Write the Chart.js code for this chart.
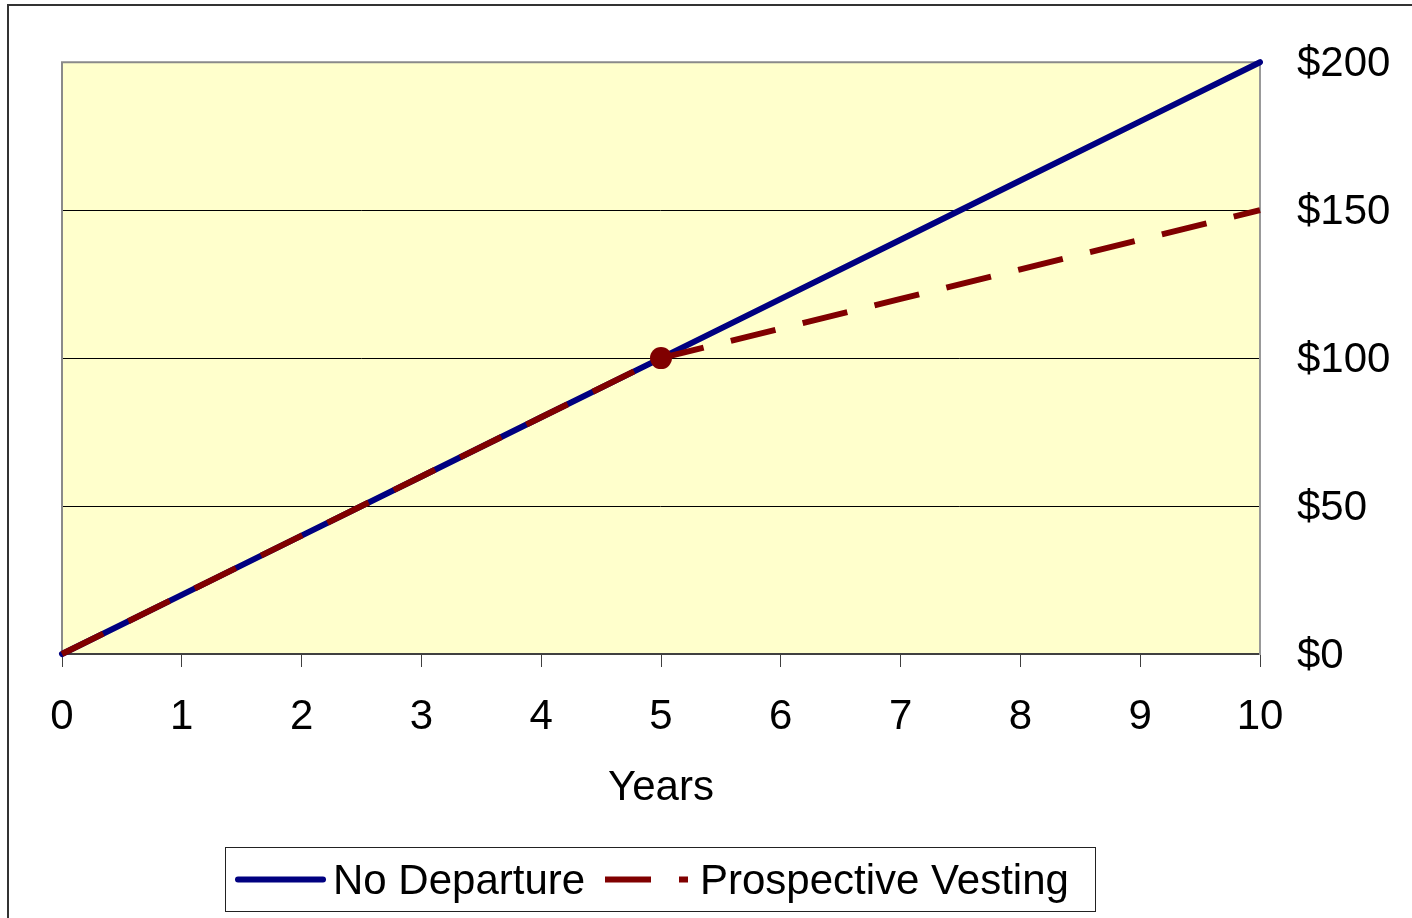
<!DOCTYPE html>
<html>
<head>
<meta charset="utf-8">
<title>Years</title>
<script src="https://cdn.jsdelivr.net/npm/chart.js@4/dist/chart.umd.min.js"></script>
<style>
  html, body { margin: 0; padding: 0; background: #ffffff; }
  #wrap { width: 1412px; height: 918px; position: relative; }
</style>
</head>
<body>
<div id="wrap"><canvas id="c" width="1412" height="918"></canvas></div>
<script>
// Years on the horizontal axis
const years = [0, 1, 2, 3, 4, 5, 6, 7, 8, 9, 10];
// Value with no departure
const noDeparture = [0, 20, 40, 60, 80, 100, 120, 140, 160, 180, 200];
// Value under prospective vesting (slows after year 5)
const prospectiveVesting = [0, 20, 40, 60, 80, 100, 110, 120, 130, 140, 150];
// Year marked with a dot on the vesting line
const markedYear = 5;
// Value axis ticks
const valueTicks = [0, 50, 100, 150, 200];
const seriesNames = ['No Departure', 'Prospective Vesting'];

const FONT = "'Liberation Sans', Arial, sans-serif";
const FONT_SIZE = 42;

const toPoints = (ys) => years.map((x, i) => ({ x: x, y: ys[i] }));

// Plot background, frame and outer border
const framePlugin = {
  id: 'frame',
  beforeDraw(chart) {
    const { ctx, chartArea: a } = chart;
    ctx.save();
    ctx.fillStyle = '#ffffff';
    ctx.fillRect(0, 0, chart.width, chart.height);
    ctx.fillStyle = '#FFFFCC';
    ctx.fillRect(a.left, a.top, a.right - a.left, a.bottom - a.top);
    ctx.restore();
  },
  beforeDatasetsDraw(chart) {
    const { ctx, chartArea: a } = chart;
    ctx.save();
    ctx.lineWidth = 2;
    ctx.strokeStyle = '#8a8a8a';
    ctx.beginPath();
    ctx.moveTo(a.left, a.bottom);
    ctx.lineTo(a.left, a.top);
    ctx.lineTo(a.right, a.top);
    ctx.stroke();
    ctx.restore();
  },
  afterDraw(chart) {
    const { ctx } = chart;
    ctx.save();
    ctx.lineWidth = 2;
    ctx.strokeStyle = '#333333';
    ctx.strokeRect(8, 5, chart.width + 20, chart.height + 20);
    ctx.restore();
  }
};

// Boxed legend below the axis title
const legendPlugin = {
  id: 'boxLegend',
  afterDraw(chart) {
    const { ctx } = chart;
    const box = { left: 225, top: 847, right: 1095, bottom: 911 };
    ctx.save();
    ctx.fillStyle = '#ffffff';
    ctx.fillRect(box.left, box.top, box.right - box.left, box.bottom - box.top);
    ctx.lineWidth = 1;
    ctx.strokeStyle = '#222222';
    ctx.strokeRect(box.left + 0.5, box.top + 0.5, box.right - box.left, box.bottom - box.top);

    const items = [
      { ds: chart.data.datasets[0], x0: 238, x1: 323, tx: 333 },
      { ds: chart.data.datasets[1], x0: 605, x1: 688, tx: 700 }
    ];
    const lineY = 879.5;
    ctx.font = FONT_SIZE + 'px ' + FONT;
    ctx.textBaseline = 'alphabetic';
    ctx.textAlign = 'left';
    items.forEach(it => {
      ctx.save();
      ctx.strokeStyle = it.ds.borderColor;
      ctx.lineWidth = it.ds.borderWidth;
      ctx.lineCap = it.ds.borderCapStyle || 'butt';
      ctx.setLineDash(it.ds.borderDash || []);
      ctx.beginPath();
      ctx.moveTo(it.x0, lineY);
      ctx.lineTo(it.x1, lineY);
      ctx.stroke();
      ctx.restore();
      ctx.fillStyle = '#000000';
      ctx.fillText(it.ds.label, it.tx, 894);
    });
    ctx.restore();
  }
};

new Chart(document.getElementById('c'), {
  type: 'line',
  data: {
    datasets: [
      {
        label: seriesNames[0],
        data: toPoints(noDeparture),
        borderColor: '#000080',
        borderWidth: 6,
        borderCapStyle: 'round',
        borderJoinStyle: 'round',
        pointRadius: 0,
        tension: 0,
        fill: false,
        order: 1,
        clip: 10
      },
      {
        label: seriesNames[1],
        data: toPoints(prospectiveVesting),
        borderColor: '#800000',
        backgroundColor: '#800000',
        borderWidth: 6,
        borderDash: [46, 28],
        borderCapStyle: 'butt',
        pointRadius: (c) => (c.raw && c.raw.x === markedYear ? 11 : 0),
        pointBackgroundColor: '#800000',
        pointBorderColor: '#800000',
        pointBorderWidth: 0,
        tension: 0,
        fill: false,
        order: 0,
        clip: 14
      }
    ]
  },
  options: {
    responsive: false,
    animation: false,
    events: [],
    layout: { padding: { left: 62, top: 62, right: 0, bottom: 104 } },
    plugins: {
      legend: { display: false },
      tooltip: { enabled: false },
      title: { display: false }
    },
    scales: {
      x: {
        type: 'linear',
        min: years[0],
        max: years[years.length - 1],
        afterFit(scale) { scale.height = 160; },
        ticks: {
          stepSize: 1,
          autoSkip: false,
          maxRotation: 0,
          padding: 25,
          color: '#000000',
          font: { family: FONT, size: FONT_SIZE }
        },
        grid: {
          drawOnChartArea: false,
          drawTicks: true,
          tickLength: 13,
          color: '#404040',
          lineWidth: 1
        },
        border: { display: true, color: '#404040', width: 2 },
        title: {
          display: true,
          text: 'Years',
          color: '#000000',
          font: { family: FONT, size: FONT_SIZE },
          padding: { top: 0, bottom: 0 }
        }
      },
      y: {
        type: 'linear',
        position: 'right',
        min: valueTicks[0],
        max: valueTicks[valueTicks.length - 1],
        afterFit(scale) { scale.width = 152; },
        afterBuildTicks(scale) { scale.ticks = valueTicks.map(v => ({ value: v })); },
        ticks: {
          padding: 37,
          labelOffset: 2,
          color: '#000000',
          font: { family: FONT, size: FONT_SIZE },
          callback: (v) => '$' + v
        },
        grid: {
          drawTicks: false,
          color: '#000000',
          lineWidth: 1
        },
        border: { display: true, color: '#999999', width: 2 }
      }
    }
  },
  plugins: [framePlugin, legendPlugin]
});
</script>
</body>
</html>
